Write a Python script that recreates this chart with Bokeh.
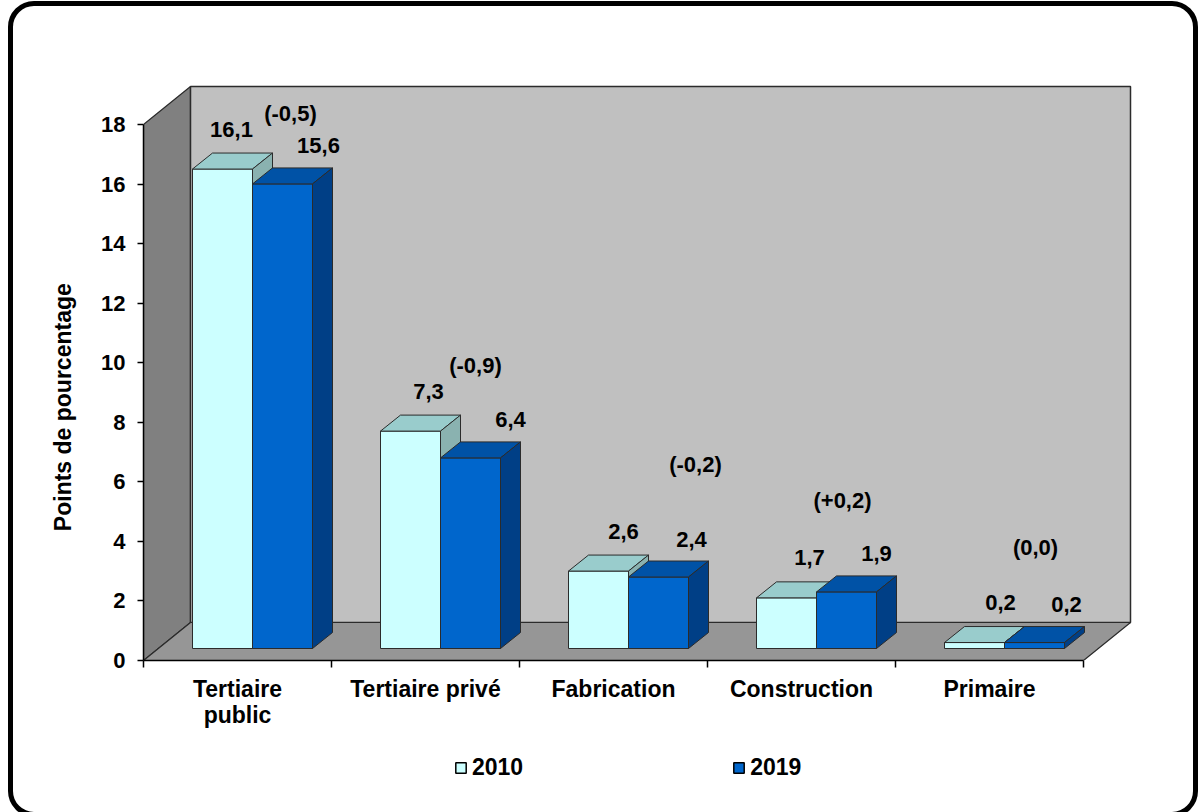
from bokeh.plotting import figure
from bokeh.layouts import column
from bokeh.models import (Range1d, FixedTicker, LinearAxis, Legend, LegendItem,
                          ColumnDataSource, InlineStyleSheet)
from bokeh.embed import file_html
from bokeh.resources import INLINE
from bokeh.core.properties import value

# ---------------- data ----------------
categories = ["Tertiaire\npublic", "Tertiaire privé", "Fabrication", "Construction", "Primaire"]
series_names = ["2010", "2019"]
values_2010 = [16.1, 7.3, 2.6, 1.7, 0.2]
values_2019 = [15.6, 6.4, 2.4, 1.9, 0.2]
changes = ["(-0,5)", "(-0,9)", "(-0,2)", "(+0,2)", "(0,0)"]
y_ticks = [0, 2, 4, 6, 8, 10, 12, 14, 16, 18]
y_title = "Points de pourcentage"

# ---------------- layout / style ----------------
W = 1198
H_MAIN, H_LEG = 740, 72
LEFT, BOTTOM = 143, 80
PX_X = 188.0   # pixels per category
PX_Y = 29.78   # pixels per percentage point
frame_w = W - LEFT
frame_h = H_MAIN - BOTTOM

FNAME = "Liberation Sans"
FONT = value(FNAME)
n = len(categories)
ymax = y_ticks[-1]

WX, WY = 47 / PX_X, 38 / PX_Y      # wall depth
BX, BY = 15 / PX_X, 12 / PX_Y      # bar placement depth
DX, DY = 20 / PX_X, 16 / PX_Y      # bar depth
BAR_W = 60 / PX_X

colors = {
    "2010": dict(front="#CCFFFF", top="#99CCCC", side="#8AB2B0"),
    "2019": dict(front="#0066CC", top="#0052A6", side="#003F86"),
}
EDGE = "#2b2b2b"

p = figure(width=W, height=H_MAIN, output_backend="svg", toolbar_location=None,
           x_range=Range1d(0, frame_w / PX_X), y_range=Range1d(0, frame_h / PX_Y),
           min_border_left=LEFT, min_border_right=0, min_border_top=0,
           min_border_bottom=BOTTOM, x_axis_type=None, y_axis_type=None)
p.outline_line_color = None
p.grid.visible = False
p.background_fill_color = "white"
p.border_fill_color = "white"

# ---------------- walls ----------------
p.patch([0, 0, WX, WX], [0, ymax, ymax + WY, WY], fill_color="#808080",
        line_color=EDGE, line_width=1.2)
p.patch([WX, n + WX, n + WX, WX], [WY, WY, ymax + WY, ymax + WY],
        fill_color="#C0C0C0", line_color=EDGE, line_width=1.5)
p.patch([0, n, n + WX, WX], [0, 0, WY, WY], fill_color="#969696",
        line_color=EDGE, line_width=1.2)

# ---------------- bars ----------------
for s, (name, vals) in enumerate(zip(series_names, [values_2010, values_2019])):
    fx, fy, tx, ty, sx, sy = [], [], [], [], [], []
    for i, v in enumerate(vals):
        x0 = i + 0.5 - BAR_W + s * BAR_W + BX
        x1 = x0 + BAR_W
        y0 = BY
        y1 = v + BY
        fx.append([x0, x1, x1, x0]); fy.append([y0, y0, y1, y1])
        tx.append([x0, x1, x1 + DX, x0 + DX]); ty.append([y1, y1, y1 + DY, y1 + DY])
        sx.append([x1, x1 + DX, x1 + DX, x1]); sy.append([y0, y0 + DY, y1 + DY, y1])
    c = colors[name]
    p.patches(fx, fy, fill_color=c["front"], line_color=EDGE, line_width=1)
    p.patches(tx, ty, fill_color=c["top"], line_color=EDGE, line_width=1)
    p.patches(sx, sy, fill_color=c["side"], line_color=EDGE, line_width=1)

# ---------------- value labels ----------------
fmt = lambda v: f"{v:.1f}".replace(".", ",")
lab_dx_2010 = [9, 18, 25, 23, 26]
lab_dx_2019 = [36, 40, 33, 30, 32]
for s, (vals, dxs, dy) in enumerate([(values_2010, lab_dx_2010, -40),
                                     (values_2019, lab_dx_2019, -38)]):
    src = ColumnDataSource(dict(
        x=[i + 0.5 - BAR_W + s * BAR_W + BX + BAR_W / 2 for i in range(n)],
        y=[v + BY for v in vals],
        t=[fmt(v) for v in vals],
        xo=dxs, yo=[dy] * n))
    p.text(x="x", y="y", text="t", x_offset="xo", y_offset="yo", source=src,
           text_align="center", text_baseline="middle", text_font=FONT,
           text_font_style="bold", text_font_size="22px", text_color="black")

chg_dx = [53, 50, 82, 41, 46]
chg_dy = [-56, -66, -107, -91, -95]
src_c = ColumnDataSource(dict(
    x=[i + 0.5 for i in range(n)],
    y=[max(a, b) + BY for a, b in zip(values_2010, values_2019)],
    t=changes, xo=chg_dx, yo=chg_dy))
p.text(x="x", y="y", text="t", x_offset="xo", y_offset="yo", source=src_c,
       text_align="center", text_baseline="middle", text_font=FONT,
       text_font_style="bold", text_font_size="22px", text_color="black")

# ---------------- axes ----------------
yaxis = LinearAxis(ticker=FixedTicker(ticks=y_ticks), bounds=(0, ymax))
# trailing no-break spaces centre the title on the 0-18 span rather than on the frame
yaxis.axis_label = y_title + "\u00a0" * 24
yaxis.axis_label_text_font = FNAME
yaxis.axis_label_text_font_style = "bold"
yaxis.axis_label_text_font_size = "23px"
yaxis.axis_label_text_color = "black"
yaxis.axis_label_standoff = 22
yaxis.major_label_text_font = FNAME
yaxis.major_label_text_font_style = "bold"
yaxis.major_label_text_font_size = "22px"
yaxis.major_label_text_color = "black"
yaxis.major_label_standoff = 12
yaxis.major_tick_out = 6
yaxis.major_tick_in = 0
yaxis.minor_tick_out = 0
yaxis.minor_tick_in = 0
yaxis.axis_line_color = "black"
yaxis.axis_line_width = 1.5
yaxis.major_tick_line_width = 1.5
p.add_layout(yaxis, "left")

xaxis = LinearAxis(ticker=FixedTicker(ticks=[i + 0.5 for i in range(n)],
                                      minor_ticks=list(range(n + 1))),
                   bounds=(0, n))
xaxis.major_label_overrides = {i + 0.5: c for i, c in enumerate(categories)}
xaxis.major_label_text_font = FNAME
xaxis.major_label_text_font_style = "bold"
xaxis.major_label_text_font_size = "23px"
xaxis.major_label_text_line_height = 1.0
xaxis.major_label_text_color = "black"
xaxis.major_label_standoff = 8
xaxis.major_tick_out = 7
xaxis.major_tick_in = 0
xaxis.major_tick_line_color = None
xaxis.minor_tick_out = 7
xaxis.minor_tick_in = 0
xaxis.minor_tick_line_color = "black"
xaxis.minor_tick_line_width = 1.5
xaxis.axis_line_color = "black"
xaxis.axis_line_width = 1.5
p.add_layout(xaxis, "below")

# ---------------- legend strip ----------------
q = figure(width=W, height=H_LEG, output_backend="svg", toolbar_location=None,
           x_range=Range1d(0, W - LEFT), y_range=Range1d(0, H_LEG),
           min_border=0, x_axis_type=None, y_axis_type=None)
q.outline_line_color = None
q.grid.visible = False
q.background_fill_color = "white"
q.border_fill_color = "white"
leg_items = []
for name in series_names:
    r = q.patches([[-20, -10, -10, -20]], [[-20, -20, -10, -10]],
                  fill_color=colors[name]["front"], line_color="black", line_width=1.5)
    leg_items.append(LegendItem(label=name, renderers=[r]))
legend = Legend(items=leg_items, orientation="horizontal", location=(311, 31),
                spacing=209, label_standoff=5, glyph_width=13, glyph_height=13,
                label_text_font=FNAME, label_text_font_style="bold",
                label_text_font_size="23px", label_text_color="black",
                border_line_color=None, background_fill_alpha=0,
                padding=0, margin=0)
q.add_layout(legend)

layout = column(p, q, spacing=0)

# ---------------- rounded outer frame (CSS overlay) ----------------
layout.stylesheets = [InlineStyleSheet(css="""
:host { position: relative; overflow: hidden; }
:host::after { content: ""; position: absolute; left: 8px; top: 1px;
  width: 1190px; height: 816px; border: 5px solid black; border-radius: 26px;
  box-sizing: border-box; pointer-events: none; z-index: 10; }
""")]

open("out.html", "w").write(file_html(layout, INLINE))
